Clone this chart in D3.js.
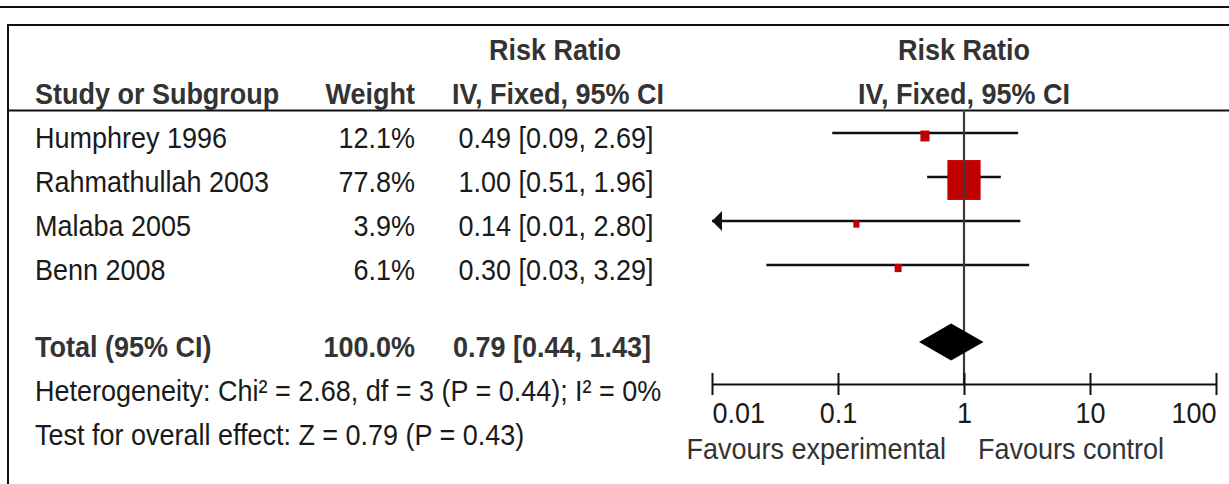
<!DOCTYPE html>
<html>
<head>
<meta charset="utf-8">
<script src="https://cdn.jsdelivr.net/npm/d3@7"></script>
<style>
  body { margin: 0; background: #fff; }
  svg { display: block; }
  text { font-family: "Liberation Sans", Arial, sans-serif; font-size: 30px; fill: #1a1a1a; }
  .bold { font-weight: bold; fill: #333; }
</style>
</head>
<body>
<svg id="chart" width="1229" height="484"></svg>
<script>
// study data
const studies = ["Humphrey 1996", "Rahmathullah 2003", "Malaba 2005", "Benn 2008"];
const weights = [12.1, 77.8, 3.9, 6.1];
const ratios = [0.49, 1.00, 0.14, 0.30];
const lowers = [0.09, 0.51, 0.007, 0.027];
const uppers = [2.69, 1.96, 2.80, 3.29];

// pooled estimate
const totalLabel = "Total (95% CI)";
const totalWeight = 100.0;
const totalRatio = 0.79;
const totalLower = 0.44;
const totalUpper = 1.43;

const heterogeneityText = "Heterogeneity: Chi² = 2.68, df = 3 (P = 0.44); I² = 0%";
const overallText = "Test for overall effect: Z = 0.79 (P = 0.43)";

const tickValues = [0.01, 0.1, 1, 10, 100];
const tickLabels = ["0.01", "0.1", "1", "10", "100"];
const favourLeft = "Favours experimental";
const favourRight = "Favours control";

// text in the original is a bit narrow, squeeze it horizontally
const squeeze = 0.9;

let svg = d3.select("#chart");

let xScale = d3.scaleLog()
    .domain([0.01, 100])
    .range([712, 1216]);

// row positions (CI line y)
let yRow = d3.scaleLinear()
    .domain([0, 1])
    .range([133, 177]);

let boxSize = d3.scaleLinear()
    .domain([0, 100])
    .range([4.65, 41.4]);

const fmt = v => v.toFixed(2);
const ciText = (r, l, u) => fmt(r) + " [" + fmt(l) + ", " + fmt(u) + "]";

function addText(parent, x, y, str, anchor, bold){
    return parent.append("text")
        .attr("class", bold ? "bold" : null)
        .attr("transform", `translate(${x},${y}) scale(${squeeze},1)`)
        .attr("text-anchor", anchor || "start")
        .text(str);
}

/////////////////
// FRAME
svg.append("line")
    .attr("x1", 0).attr("x2", 1229)
    .attr("y1", 7).attr("y2", 7)
    .style("stroke", "#111")
    .style("stroke-width", 2);

svg.append("path")
    .attr("d", "M8,484 V25 H1229")
    .attr("fill", "none")
    .style("stroke", "#111")
    .style("stroke-width", 2);

svg.append("line")
    .attr("x1", 8).attr("x2", 1229)
    .attr("y1", 110.5).attr("y2", 110.5)
    .style("stroke", "#111")
    .style("stroke-width", 2);

/////////////////
// HEADERS
addText(svg, 555, 60, "Risk Ratio", "middle", true);
addText(svg, 964, 60, "Risk Ratio", "middle", true);
addText(svg, 35, 104, "Study or Subgroup", "start", true);
addText(svg, 415, 104, "Weight", "end", true);
addText(svg, 558, 104, "IV, Fixed, 95% CI", "middle", true);
addText(svg, 964, 104, "IV, Fixed, 95% CI", "middle", true);

/////////////////
// STUDY ROWS
let rowData = studies.map((s, i) => ({ name: s, w: weights[i], rr: ratios[i], lo: lowers[i], hi: uppers[i], i: i }));

let rows = svg.append("g")
    .selectAll("g")
    .data(rowData)
    .join("g");

rows.each(function(d){
    let g = d3.select(this);
    let ty = yRow(d.i) + 15;
    addText(g, 35, ty, d.name);
    addText(g, 415, ty, d.w.toFixed(1) + "%", "end");
    addText(g, 556, ty, ciText(d.rr, d.lo, d.hi), "middle");
});

// line of no effect
svg.append("line")
    .attr("x1", xScale(1)).attr("x2", xScale(1))
    .attr("y1", 110).attr("y2", 384)
    .style("stroke", "#3a3a3a")
    .style("stroke-width", 2.2);

// confidence intervals
rows.append("line")
    .attr("x1", d => xScale(Math.max(d.lo, xScale.domain()[0])))
    .attr("x2", d => xScale(Math.min(d.hi, xScale.domain()[1])))
    .attr("y1", d => yRow(d.i))
    .attr("y2", d => yRow(d.i))
    .style("stroke", "#111")
    .style("stroke-width", 2.4);

// arrow where CI runs past the axis
rows.filter(d => d.lo < xScale.domain()[0])
    .append("path")
    .attr("d", d => {
        let x0 = xScale.range()[0], y0 = yRow(d.i);
        return `M${x0},${y0} L${x0 + 10},${y0 - 10} L${x0 + 10},${y0 + 10} Z`;
    })
    .attr("fill", "#111");

// weight boxes
rows.append("rect")
    .attr("x", d => xScale(d.rr) - boxSize(d.w) / 2)
    .attr("y", d => yRow(d.i) + 3 - boxSize(d.w) * 0.6)
    .attr("width", d => boxSize(d.w))
    .attr("height", d => boxSize(d.w) * 1.2)
    .attr("fill", "#c00000");

/////////////////
// TOTAL
let totalY = yRow(4.75);

addText(svg, 35, totalY + 15, totalLabel, "start", true);
addText(svg, 415, totalY + 15, totalWeight.toFixed(1) + "%", "end", true);
addText(svg, 552, totalY + 15, ciText(totalRatio, totalLower, totalUpper), "middle", true);

svg.append("path")
    .attr("d", `M${xScale(totalLower)},${totalY} L${xScale(totalRatio)},${totalY - 18.5} L${xScale(totalUpper)},${totalY} L${xScale(totalRatio)},${totalY + 18.5} Z`)
    .attr("fill", "#000");

addText(svg, 35, 401, heterogeneityText);
addText(svg, 35, 445, overallText);

/////////////////
// AXIS
let axis = svg.append("g")
    .attr("transform", "translate(0, 384)")
    .call(d3.axisBottom(xScale)
        .tickValues(tickValues)
        .tickFormat((d, i) => tickLabels[i])
        .tickSizeOuter(0));

axis.attr("font-size", null).attr("font-family", null);
axis.select(".domain")
    .style("stroke", "#111")
    .style("stroke-width", 2);
axis.selectAll(".tick line")
    .attr("y1", -11)
    .attr("y2", 11)
    .style("stroke", "#111")
    .style("stroke-width", 2);
axis.selectAll(".tick text")
    .attr("y", null)
    .attr("dy", null)
    .attr("transform", `translate(0,39) scale(${squeeze},1)`)
    .attr("text-anchor", (d, i) => i == 0 ? "start" : (i == tickValues.length - 1 ? "end" : "middle"))
    .style("fill", "#1a1a1a");

addText(svg, 946, 459, favourLeft, "end").style("fill", "#333");
addText(svg, 978, 459, favourRight).style("fill", "#333");
</script>
</body>
</html>
